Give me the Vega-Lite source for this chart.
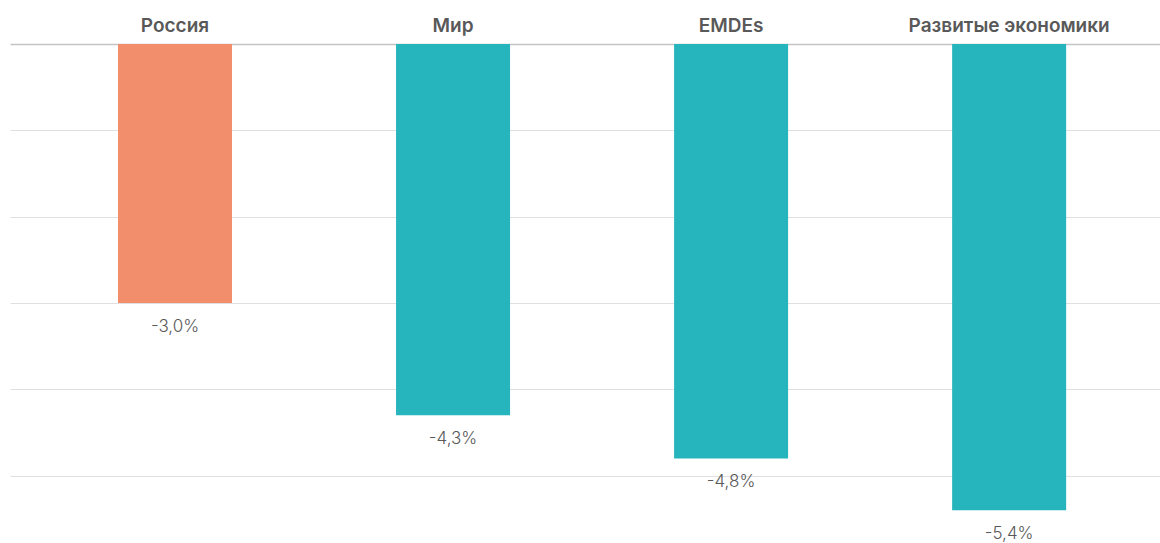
{
  "$schema": "https://vega.github.io/schema/vega-lite/v6.json",
  "autosize": {"type": "none"},
  "padding": {"left": 10, "top": 44, "right": 0, "bottom": 0},
  "width": 1150,
  "height": 518,
  "data": {
    "values": [
      {"region": "Россия", "growth": -3.0, "group": "russia"},
      {"region": "Мир", "growth": -4.3, "group": "other"},
      {"region": "EMDEs", "growth": -4.8, "group": "other"},
      {"region": "Развитые экономики", "growth": -5.4, "group": "other"}
    ]
  },
  "transform": [
    {"calculate": "(datum.growth < 0 ? '-' : '') + replace(format(abs(datum.growth), '.1f'), '.', ',') + '%'", "as": "label"}
  ],
  "encoding": {
    "x": {
      "field": "region",
      "type": "nominal",
      "sort": null,
      "scale": {"paddingInner": 0.59, "paddingOuter": 0.363, "align": 0.535},
      "axis": {
        "orient": "top",
        "title": null,
        "labelAngle": 0,
        "ticks": false,
        "domain": true,
        "domainColor": "#c4c4c4",
        "domainWidth": 1.5,
        "labelFont": "Inter",
        "labelFontWeight": 600,
        "labelFontSize": 19,
        "labelColor": "#595959",
        "labelPadding": 9,
        "labelLimit": 400,
        "labelOverlap": false
      }
    }
  },
  "layer": [
    {
      "mark": {"type": "bar"},
      "encoding": {
        "y": {
          "field": "growth",
          "type": "quantitative",
          "scale": {"domain": [-6, 0], "nice": false},
          "axis": {
            "title": null,
            "labels": false,
            "ticks": false,
            "domain": false,
            "grid": true,
            "gridColor": "#e0e0e0",
            "gridWidth": 1,
            "values": [-5, -4, -3, -2, -1]
          }
        },
        "y2": {"datum": 0},
        "color": {
          "field": "group",
          "type": "nominal",
          "scale": {"domain": ["russia", "other"], "range": ["#f28e6b", "#27b5bd"]},
          "legend": null
        }
      }
    },
    {
      "mark": {
        "type": "text",
        "baseline": "middle",
        "dy": 24,
        "font": "Inter",
        "fontWeight": 300,
        "fontSize": 17,
        "color": "#595959"
      },
      "encoding": {
        "y": {"field": "growth", "type": "quantitative"},
        "text": {"field": "label"}
      }
    }
  ],
  "config": {"view": {"stroke": null}}
}
